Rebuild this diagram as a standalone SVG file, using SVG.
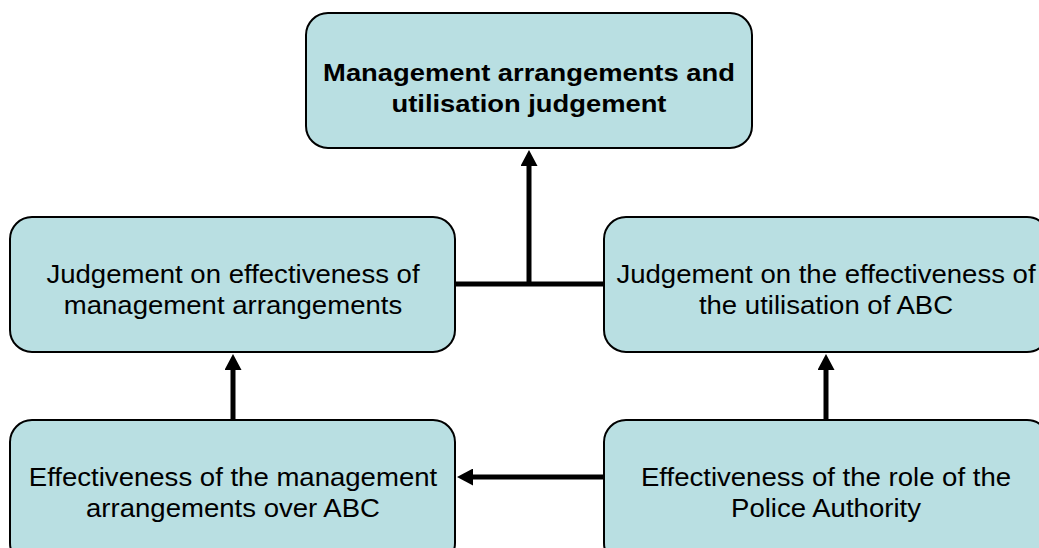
<svg xmlns="http://www.w3.org/2000/svg" width="1039" height="548" viewBox="0 0 1039 548">
  <style>
    .box { fill: #b9dfe2; stroke: #000; stroke-width: 2; }
    .lbl { font-family: "Liberation Sans", Arial, sans-serif; font-size: 26px; fill: #000; text-anchor: middle; }
    .bold { font-weight: bold; font-size: 24px; }
    .conn { stroke: #000; stroke-width: 5; fill: none; }
  </style>
  <defs>
    <!-- arrowhead: tip sits 14px beyond the end of the shaft -->
    <marker id="arrow" viewBox="0 0 16 17" refX="2" refY="8.5" markerWidth="16" markerHeight="17" orient="auto" markerUnits="userSpaceOnUse">
      <path d="M0,0 L16,8.5 L0,17 z" fill="#000"/>
    </marker>
  </defs>
  <rect width="1039" height="548" fill="#fff"/>

  <g id="connectors">
    <path class="conn" d="M455,284 H604"/>
    <path class="conn" d="M529,286 V164" marker-end="url(#arrow)"/>
    <path class="conn" d="M233,420 V368" marker-end="url(#arrow)"/>
    <path class="conn" d="M826,420 V368" marker-end="url(#arrow)"/>
    <path class="conn" d="M604,477 H471" marker-end="url(#arrow)"/>
  </g>

  <g id="node-top">
    <rect class="box" x="306" y="13" width="446" height="135" rx="22"/>
    <text class="lbl bold" transform="translate(529,81) scale(1.14,1)">Management arrangements and</text>
    <text class="lbl bold" transform="translate(529,112) scale(1.14,1)">utilisation judgement</text>
  </g>

  <g id="node-mid-left">
    <rect class="box" x="10" y="217" width="445" height="135" rx="22"/>
    <text class="lbl" transform="translate(233,283) scale(1.06,1)">Judgement on effectiveness of</text>
    <text class="lbl" transform="translate(233,314) scale(1.06,1)">management arrangements</text>
  </g>

  <g id="node-mid-right">
    <rect class="box" x="604" y="217" width="445" height="135" rx="22"/>
    <text class="lbl" transform="translate(826,283) scale(1.06,1)">Judgement on the effectiveness of</text>
    <text class="lbl" transform="translate(826,314) scale(1.06,1)">the utilisation of ABC</text>
  </g>

  <g id="node-bottom-left">
    <rect class="box" x="10" y="420" width="445" height="145" rx="22"/>
    <text class="lbl" transform="translate(233,486) scale(1.06,1)">Effectiveness of the management</text>
    <text class="lbl" transform="translate(233,517) scale(1.06,1)">arrangements over ABC</text>
  </g>

  <g id="node-bottom-right">
    <rect class="box" x="604" y="420" width="445" height="145" rx="22"/>
    <text class="lbl" transform="translate(826,486) scale(1.06,1)">Effectiveness of the role of the</text>
    <text class="lbl" transform="translate(826,517) scale(1.06,1)">Police Authority</text>
  </g>
</svg>
